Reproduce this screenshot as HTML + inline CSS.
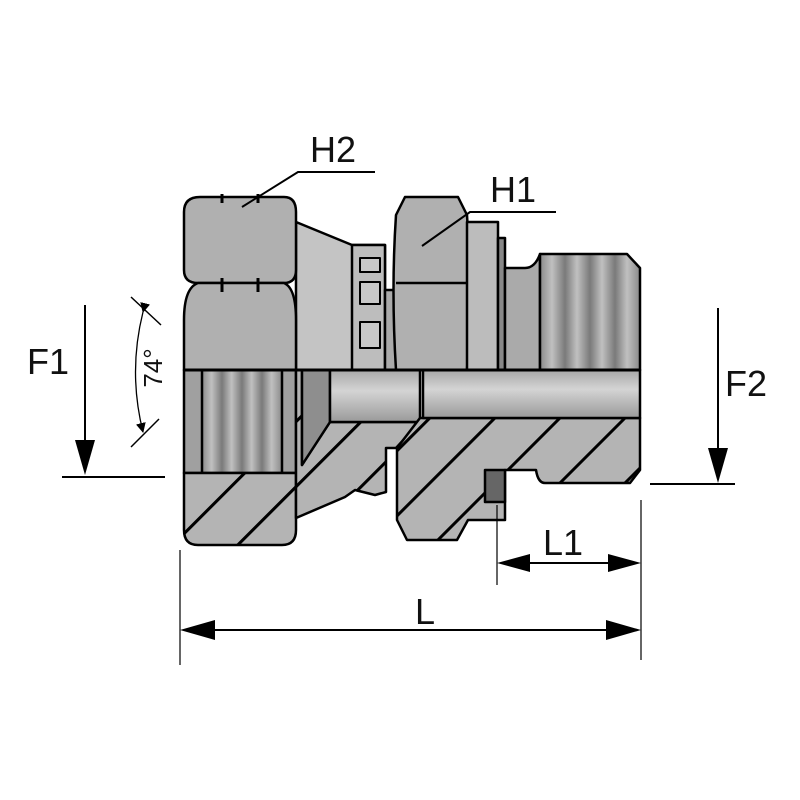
<!DOCTYPE html>
<html><head><meta charset="utf-8"><style>html,body{margin:0;padding:0;background:#fff}svg{display:block}</style></head>
<body>
<svg width="800" height="800" viewBox="0 0 800 800" xmlns="http://www.w3.org/2000/svg">
<defs>
<pattern id="h" patternUnits="userSpaceOnUse" width="46" height="46" patternTransform="rotate(-45)">
<rect width="46" height="46" fill="#b4b4b4"/><rect x="0" y="0" width="46" height="3" fill="#000"/>
</pattern>
<linearGradient id="thr" x1="0" x2="1" y1="0" y2="0">
<stop offset="0" stop-color="#8a8a8a"/><stop offset="0.12" stop-color="#c0c0c0"/><stop offset="0.25" stop-color="#7a7a7a"/><stop offset="0.37" stop-color="#c0c0c0"/><stop offset="0.5" stop-color="#7a7a7a"/><stop offset="0.62" stop-color="#c0c0c0"/><stop offset="0.75" stop-color="#7a7a7a"/><stop offset="0.87" stop-color="#c0c0c0"/><stop offset="1" stop-color="#8a8a8a"/>
</linearGradient>
<linearGradient id="bore" x1="0" x2="0" y1="0" y2="1">
<stop offset="0" stop-color="#a8a8a8"/><stop offset="0.4" stop-color="#d4d4d4"/><stop offset="1" stop-color="#9a9a9a"/>
</linearGradient>
<marker id="ar" markerWidth="10" markerHeight="10" refX="9" refY="5" orient="auto" markerUnits="userSpaceOnUse"><path d="M0,0 L10,5 L0,10 z" fill="#000"/></marker>
</defs>
<g stroke="#000" stroke-width="2.5" stroke-linejoin="round">
<polygon points="296,222 352,245 385,245 385,370 296,370" fill="#c4c4c4"/>
<rect x="352" y="245" width="33" height="125" fill="#bdbdbd"/>
<rect x="360" y="258" width="20" height="14" fill="#c8c8c8" stroke-width="2"/>
<rect x="360" y="282" width="20" height="22" fill="#c8c8c8" stroke-width="2"/>
<rect x="360" y="322" width="20" height="26" fill="#c8c8c8" stroke-width="2"/>
<rect x="385" y="290" width="12" height="80" fill="#aaa"/>
<path d="M200,197 H284 Q296,197 296,212 V270 Q296,283 284,283 H198 Q184,283 184,270 V212 Q184,197 200,197 Z" fill="#b0b0b0"/>
<path d="M198,283 H284 Q296,288 296,320 V370 H184 V320 Q184,288 198,283 Z" fill="#b0b0b0"/>
<path d="M405,197 H458 L467,215 Q472,290 467,370 H396 Q391,290 396,215 Z" fill="#b0b0b0"/>
<path d="M396,283 H467" fill="none"/>
<rect x="467" y="222" width="31" height="148" fill="#bcbcbc"/>
<rect x="498" y="238" width="7" height="132" fill="#888"/>
<path d="M505,268 H525 Q535,268 540,254 V370 H505 Z" fill="#aaa"/>
<path d="M540,254 H627 L640,268 V370 H540 Z" fill="url(#thr)"/>
<rect x="184" y="370" width="112" height="103" fill="#a0a0a0"/>
<rect x="202" y="370" width="80" height="103" fill="url(#thr)"/>
<path d="M184,473 H296 V530 Q296,545 282,545 H198 Q184,545 184,530 Z" fill="url(#h)"/>
<polygon points="296,370 302,370 302,465 330,422 420,422 396,448 386,448 386,492 375,495 355,490 345,497 296,518" fill="url(#h)"/>
<polygon points="302,370 330,370 330,422 302,465" fill="#8e8e8e"/>
<rect x="330" y="370" width="90" height="52" fill="url(#bore)"/>
<path d="M397,448 L420,418 H640 V470 L630,483 H545 Q538,483 536,470 H505 V520 H468 L457,540 H407 L397,520 Z" fill="url(#h)"/>
<rect x="423" y="370" width="217" height="48" fill="url(#bore)"/>
<rect x="485" y="470" width="20" height="32" fill="#666"/>
<line x1="184" y1="370" x2="640" y2="370" stroke-width="3"/>
</g>
<g stroke="#000" stroke-width="3">
<line x1="222" y1="194" x2="222" y2="203"/><line x1="258" y1="194" x2="258" y2="203"/>
<line x1="222" y1="278" x2="222" y2="292"/><line x1="258" y1="278" x2="258" y2="292"/>
</g>
<g stroke="#000" stroke-width="2" fill="none">
<polyline points="242,207 298,172 375,172"/>
<polyline points="422,246 470,212 556,212"/>
<line x1="85" y1="305" x2="85" y2="462"/><polygon points="75,440 95,440 85,475" fill="#000" stroke="none"/>
<line x1="62" y1="477" x2="165" y2="477"/>
<line x1="718" y1="308" x2="718" y2="468"/><polygon points="708,448 728,448 718,483" fill="#000" stroke="none"/>
<line x1="650" y1="484" x2="735" y2="484"/>
<line x1="180" y1="550" x2="180" y2="665" stroke-width="1.2"/>
<line x1="641" y1="500" x2="641" y2="660" stroke-width="1.2"/>
<line x1="497" y1="505" x2="497" y2="585" stroke-width="1.2"/>
<line x1="195" y1="630" x2="626" y2="630"/>
<polygon points="180,630 215,620 215,640" fill="#000" stroke="none"/>
<polygon points="641,630 606,620 606,640" fill="#000" stroke="none"/>
<line x1="512" y1="563" x2="626" y2="563"/>
<polygon points="497,563 530,554 530,572" fill="#000" stroke="none"/>
<polygon points="641,563 608,554 608,572" fill="#000" stroke="none"/>
<line x1="131" y1="297" x2="161" y2="325" stroke-width="1.5"/>
<line x1="131" y1="447" x2="159" y2="419" stroke-width="1.5"/>
<path d="M143,312 Q128,372 143,432" stroke-width="1.3" marker-start="url(#ar)" marker-end="url(#ar)"/>
</g>
<g font-family="Liberation Sans, sans-serif" font-size="36" fill="#111">
<text x="310" y="162">H2</text>
<text x="490" y="202">H1</text>
<text x="27" y="374">F1</text>
<text x="725" y="396">F2</text>
<text x="415" y="624">L</text>
<text x="543" y="555">L1</text>
<text transform="translate(162,368) rotate(-90)" font-size="26" text-anchor="middle">74°</text>
</g>
</svg>
</body></html>
